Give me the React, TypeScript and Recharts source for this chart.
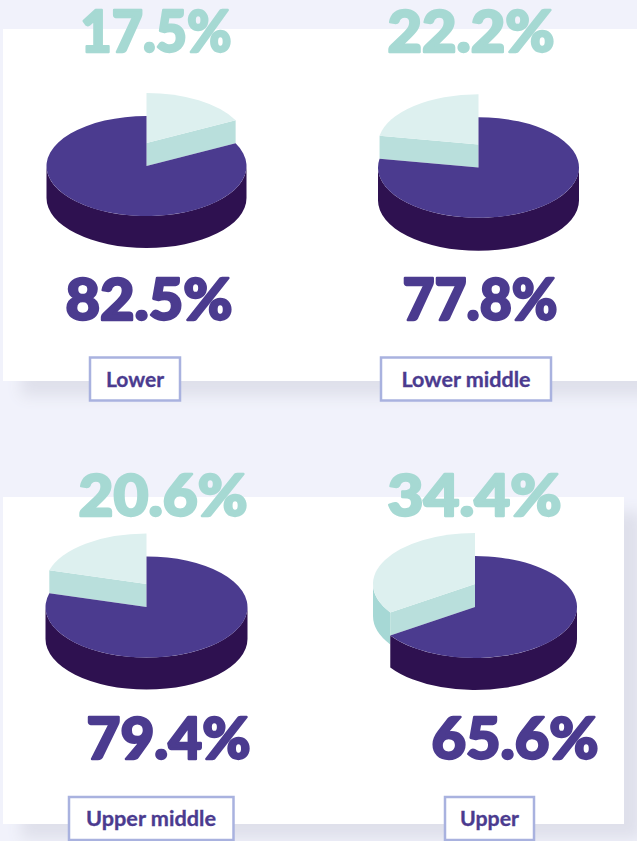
import React from 'react';
import { PieChart, Pie } from 'recharts';

const categories = ['Lower', 'Lower middle', 'Upper middle', 'Upper'];
const tealShare = [17.5, 22.2, 20.6, 34.4];
const purpleShare = [82.5, 77.8, 79.4, 65.6];

const WIDTH = 637;
const HEIGHT = 841;

// layout of each group, same order as categories
const pies = [
  { cx: 146.5, cy: 166, r: 100, depth: 32, clockwise: true },
  { cx: 478.5, cy: 167.5, r: 100.5, depth: 33, clockwise: false },
  { cx: 146.5, cy: 607, r: 101, depth: 32, clockwise: false },
  { cx: 475, cy: 607, r: 102, depth: 32, clockwise: false },
];
const tealText = [
  { x: 156, y: 52, w: 151 },
  { x: 471, y: 52, w: 167 },
  { x: 163, y: 516, w: 169 },
  { x: 474.5, y: 516, w: 174 },
];
const purpleText = [
  { x: 149, y: 320, w: 167 },
  { x: 480, y: 320, w: 155 },
  { x: 168.5, y: 759, w: 164 },
  { x: 515, y: 759, w: 167 },
];
const boxes = [
  { x: 90, y: 357.5, w: 90, h: 43, tx: 135, ty: 387, tw: 58 },
  { x: 381, y: 357.5, w: 170, h: 43, tx: 466, ty: 387, tw: 129 },
  { x: 69, y: 797, w: 164.5, h: 43, tx: 151, ty: 826, tw: 130 },
  { x: 445, y: 797, w: 89, h: 43, tx: 489.5, ty: 826, tw: 59 },
];

const PURPLE = '#4b3b8f';
const PURPLE_WALL = '#2e1150';
const TEAL = '#a6d9d3';
const TEAL_TOP = '#ddf0ef';
const TEAL_BAND = '#b9dfdc';
const TEAL_WALL = '#a6d8d5';
const BORDER = '#a9b2df';
const FONT = 'Lato, sans-serif';

const SQUASH = 0.5;
const LIFT = 23;

// draws one slice as a tilted 3D wedge from the angles the Pie worked out
const Wedge3D = (props: any) => {
  const { cx, cy, outerRadius, startAngle, endAngle, payload } = props;
  const rx = outerRadius;
  const ry = outerRadius * SQUASH;
  const lo = Math.min(startAngle, endAngle);
  const hi = Math.max(startAngle, endAngle);
  const teal = payload.part === 'teal';
  const top = teal ? cy - LIFT : cy;
  const depth = payload.depth;

  const pt = (deg: number, y0: number) => {
    const a = (deg * Math.PI) / 180;
    return [cx + rx * Math.cos(a), y0 - ry * Math.sin(a)];
  };

  // outer wall only shows on the lower half of the ellipse
  const walls: React.ReactNode[] = [];
  [-1, 0, 1].forEach((k) => {
    const a = Math.max(lo, 180 + 360 * k);
    const b = Math.min(hi, 360 + 360 * k);
    if (b <= a) return;
    const [x1, y1] = pt(a, top);
    const [x2, y2] = pt(b, top);
    walls.push(
      <path
        key={k}
        d={`M${x1},${y1} A${rx},${ry} 0 0 0 ${x2},${y2} L${x2},${y2 + depth} A${rx},${ry} 0 0 1 ${x1},${y1 + depth} Z`}
        fill={teal ? TEAL_WALL : PURPLE_WALL}
      />
    );
  });

  const [sx, sy] = pt(lo, top);
  const [ex, ey] = pt(hi, top);
  const large = hi - lo > 180 ? 1 : 0;
  const face = `M${cx},${top} L${sx},${sy} A${rx},${ry} 0 ${large} 0 ${ex},${ey} Z`;

  let band = null;
  if (teal) {
    const [bx, by] = pt(endAngle, top);
    band = <path d={`M${cx},${top} L${bx},${by} L${bx},${by + LIFT} L${cx},${cy} Z`} fill={TEAL_BAND} />;
  }

  return (
    <g>
      {walls}
      {band}
      <path d={face} fill={teal ? TEAL_TOP : PURPLE} />
    </g>
  );
};

export default function App() {
  return (
    <div style={{ position: 'absolute', left: 0, top: 0, width: WIDTH, height: HEIGHT, overflow: 'hidden', background: '#f1f2fb' }}>
      <div style={{ position: 'absolute', left: 3, top: 29, width: 700, height: 352, background: '#fff', boxShadow: '18px 15px 14px #dfe0eb' }} />
      <div style={{ position: 'absolute', left: 3, top: 497, width: 621, height: 327, background: '#fff', boxShadow: '18px 15px 14px #dfe0eb' }} />
      <div style={{ position: 'absolute', left: 0, top: 0 }}>
        <PieChart width={WIDTH} height={HEIGHT} margin={{ top: 0, right: 0, bottom: 0, left: 0 }}>
          {categories.map((name, i) => {
            const p = pies[i];
            const rows = [
              { name: `${name} teal`, part: 'teal', value: tealShare[i], depth: p.depth },
              { name: `${name} purple`, part: 'purple', value: purpleShare[i], depth: p.depth },
            ];
            return (
              <Pie
                key={name}
                data={rows}
                dataKey="value"
                cx={p.cx}
                cy={p.cy}
                outerRadius={p.r}
                startAngle={90}
                endAngle={p.clockwise ? -270 : 450}
                stroke="none"
                shape={Wedge3D}
                isAnimationActive={false}
              />
            );
          })}
          {tealShare.map((v, i) => (
            <text key={`t${i}`} x={tealText[i].x} y={tealText[i].y} textAnchor="middle" textLength={tealText[i].w} lengthAdjust="spacingAndGlyphs" fontFamily={FONT} fontWeight={900} fontSize={57} fill={TEAL} stroke={TEAL} strokeWidth={2.4} strokeLinejoin="round">
              {v.toFixed(1)}%
            </text>
          ))}
          {purpleShare.map((v, i) => (
            <text key={`p${i}`} x={purpleText[i].x} y={purpleText[i].y} textAnchor="middle" textLength={purpleText[i].w} lengthAdjust="spacingAndGlyphs" fontFamily={FONT} fontWeight={900} fontSize={57} fill={PURPLE} stroke={PURPLE} strokeWidth={2.4} strokeLinejoin="round">
              {v.toFixed(1)}%
            </text>
          ))}
          {categories.map((name, i) => {
            const b = boxes[i];
            return (
              <g key={`b${i}`}>
                <rect x={b.x} y={b.y} width={b.w} height={b.h} fill="#fff" stroke={BORDER} strokeWidth={2.5} />
                <text x={b.tx} y={b.ty} textAnchor="middle" textLength={b.tw} lengthAdjust="spacingAndGlyphs" fontFamily={FONT} fontWeight={700} fontSize={20} fill={PURPLE} stroke={PURPLE} strokeWidth={0.3}>
                  {name}
                </text>
              </g>
            );
          })}
        </PieChart>
      </div>
    </div>
  );
}
